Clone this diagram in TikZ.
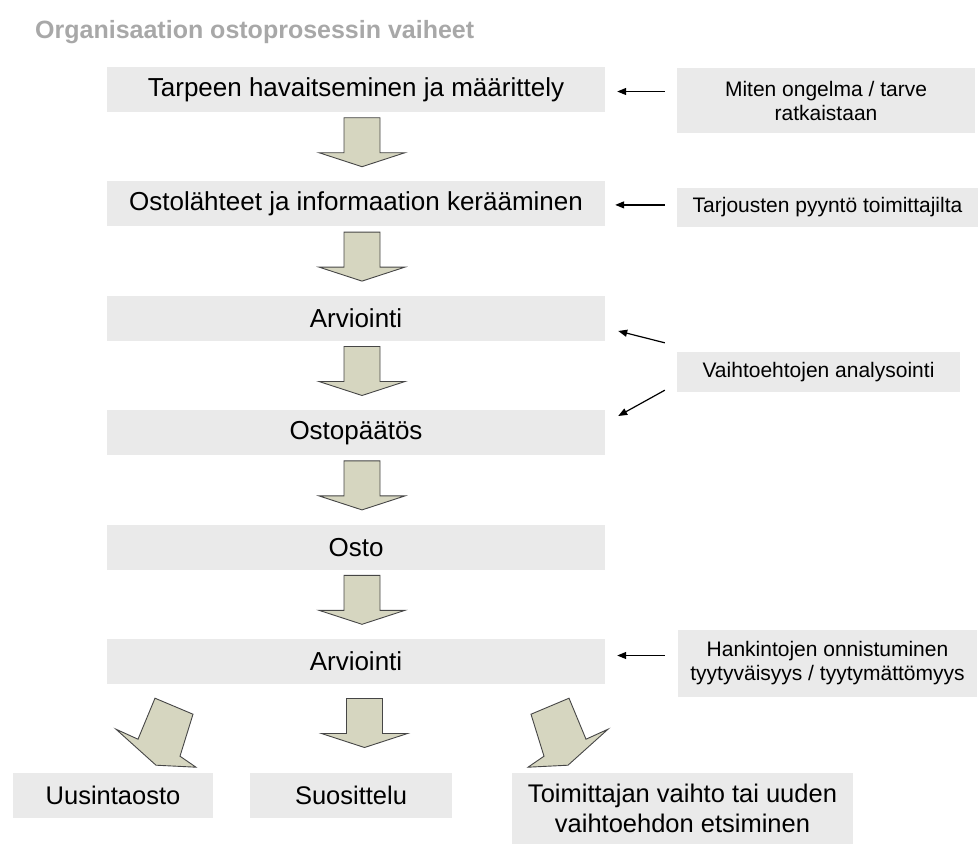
\documentclass[tikz,border=0pt]{standalone}
\usepackage{fontspec}
\setmainfont{Liberation Sans}
\usepackage{tikz}
\usetikzlibrary{arrows.meta, positioning, calc}
\definecolor{boxgray}{RGB}{234,234,234}
\definecolor{arrfill}{RGB}{214,214,192}
\definecolor{arredge}{RGB}{70,70,70}
\definecolor{titlegray}{RGB}{168,168,168}
\tikzset{
  stage/.style={fill=boxgray, minimum width=498pt, minimum height=45pt,
    inner sep=0pt, font=\fontsize{26}{30}\selectfont},
  note/.style={fill=boxgray, inner sep=0pt, align=center,
    font=\fontsize{21}{24}\selectfont},
  result/.style={fill=boxgray, inner sep=0pt, align=center,
    minimum height=45pt, font=\fontsize{25.5}{30}\selectfont},
  pointer/.style={-{Triangle[length=9pt,width=7pt]}, line width=1.2pt, color=black},
  blockarrow/.style={fill=arrfill, draw=arredge, line width=0.9pt},
  downarr/.pic={\draw[blockarrow] (-18,-29) -- (18,-29) -- (18,6) -- (43,6)
    -- (0,20) -- (-43,6) -- (-18,6) -- cycle;},
  sidearr/.pic={\draw[blockarrow] (-207,14) -- (-169,30) -- (-182,72)
    -- (-166,83) -- (-206,81) -- (-246,45) -- (-224,55) -- cycle;}
}

\begin{document}
\begin{tikzpicture}[x=1pt, y=-1pt]
  \useasboundingbox (0,0) rectangle (980,844);

  % Title
  \node[anchor=base west, inner sep=0pt, text=titlegray,
    font=\bfseries\fontsize{25}{28}\selectfont] (title) at (35,38)
    {Organisaation ostoprosessin vaiheet};

  % Main stages
  \node[stage] (b1) at (356,89.5) {Tarpeen havaitseminen ja määrittely};
  \node[stage, below=69pt of b1] (b2) {Ostolähteet ja informaation kerääminen};
  \node[stage, below=69pt of b2] (b3) {Arviointi};
  \node[stage, below=69pt of b3] (b4) {Ostopäätös};
  \node[stage, below=69pt of b4] (b5) {Osto};
  \node[stage, below=69pt of b5] (b6) {Arviointi};

  % Block arrows between stages
  \foreach \a/\b in {b1/b2, b2/b3, b3/b4, b4/b5, b5/b6}
    \pic at ($($(\a.south)!0.5!(\b.north)$)+(6,0)$) {downarr};

  % Notes on the right
  \node[note, minimum width=298pt, minimum height=65pt] (r1) at (826,100.5)
    {Miten ongelma / tarve\\ratkaistaan};
  \node[note, minimum width=301pt, minimum height=39pt] (r2) at (827.5,207.5)
    {Tarjousten pyyntö toimittajilta};
  \node[note, minimum width=283pt, minimum height=40pt] (r3) at (818.5,372)
    {Vaihtoehtojen analysointi};
  \node[note, minimum width=299pt, minimum height=67pt] (r4) at (827.5,663.5)
    {Hankintojen onnistuminen\\tyytyväisyys / tyytymättömyys};

  \draw[pointer] ($(r1.west |- b1)+(-12,2)$) -- ($(b1.east)+(12,2)$);
  \draw[pointer] ($(r2.west |- b2)+(-12,1)$) -- ($(b2.east)+(10,1)$);
  \draw[pointer] ($(r3.north west)+(-12,-9)$) -- ($(b3.south east)+(13,-10)$);
  \draw[pointer] ($(r3.south west)+(-12,-2)$) -- ($(b4.north east)+(13,6)$);
  \draw[pointer] ($(r4.west |- b6)+(-13,-6)$) -- ($(b6.east)+(12,-6)$);

  % Outcomes
  \node[result, minimum width=200pt] (u) at (113,795.5) {Uusintaosto};
  \node[result, minimum width=202pt] (s) at (351,795.5) {Suosittelu};
  \node[result, minimum width=341pt, minimum height=71pt] (t) at (682.5,808.5)
    {Toimittajan vaihto tai uuden\\vaihtoehdon etsiminen};

  \pic at ($(b6.south)+(6,0)$) {sidearr};
  \pic[xscale=-1] at ($(b6.south)+(6,0)$) {sidearr};
  \pic at ($($(b6.south)!0.5!(s.north)$)+(11,-1)$) {downarr};
\end{tikzpicture}
\end{document}
